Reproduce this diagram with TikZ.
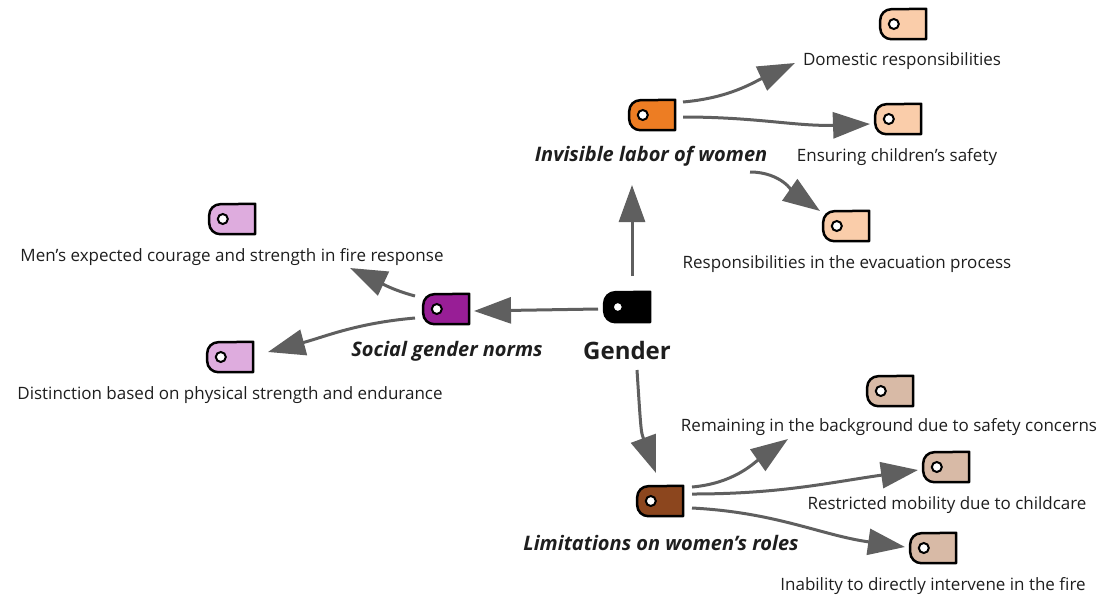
\documentclass[tikz,border=0pt]{standalone}
\usepackage{fontspec}
\setmainfont{Open Sans}
\usetikzlibrary{arrows.meta,calc}
\definecolor{txt}{RGB}{30,30,30}
\definecolor{arrgray}{RGB}{95,95,95}
\definecolor{orangetag}{RGB}{237,125,35}
\definecolor{peach}{RGB}{250,205,170}
\definecolor{purpletag}{RGB}{152,30,150}
\definecolor{lilac}{RGB}{222,172,222}
\definecolor{browntag}{RGB}{140,70,30}
\definecolor{tan}{RGB}{216,186,166}
\newcommand\tagdraw[2]{%
  \draw[line width=2.5pt,line join=round,fill=#2] (#1.south east) -- ++(-35pt,0) arc (270:180:11pt) -- ++(0,8pt) arc (180:90:11pt) -- (#1.north east) -- cycle;
  \draw[line width=2pt,fill=white] ($(#1.west)+(14pt,0)$) circle (5pt);}
\tikzset{
  tagbox/.style={rectangle,minimum width=46pt,minimum height=30pt,inner sep=0pt,draw=none},
  lbl/.style={font=\fontsize{17}{20}\selectfont,text=txt,inner sep=0pt},
  mainlbl/.style={font=\fontsize{20}{24}\selectfont\bfseries\itshape,text=txt,inner sep=0pt},
  arr/.style={draw=arrgray,line width=3pt,-{Triangle[length=37pt,width=26pt,fill=arrgray]}}
}
\begin{document}
\begin{tikzpicture}[x=1pt,y=-1pt]
\useasboundingbox (0,0) rectangle (1107,598);
% tags
\node[tagbox] (g) at (627,307) {};
\node[tagbox] (il) at (652,115) {};
\node[tagbox] (dom) at (903,24) {};
\node[tagbox] (ens) at (898,119) {};
\node[tagbox] (evac) at (846,226) {};
\node[tagbox] (men) at (232,219) {};
\node[tagbox] (sg) at (446,309) {};
\node[tagbox] (dist) at (230,357) {};
\node[tagbox] (lim) at (660,501) {};
\node[tagbox] (rem) at (890,391) {};
\node[tagbox] (res) at (946,467) {};
\node[tagbox] (ina) at (933,548) {};
\tagdraw{g}{black}
\tagdraw{il}{orangetag}
\tagdraw{dom}{peach}
\tagdraw{ens}{peach}
\tagdraw{evac}{peach}
\tagdraw{men}{lilac}
\tagdraw{sg}{purpletag}
\tagdraw{dist}{lilac}
\tagdraw{lim}{browntag}
\tagdraw{rem}{tan}
\tagdraw{res}{tan}
\tagdraw{ina}{tan}
% labels
\node[font=\fontsize{24}{28}\selectfont\bfseries,text=txt,inner sep=0pt] (gl) at (627,350) {Gender};
\node[mainlbl] (ill) at (651,156) {Invisible labor of women};
\node[mainlbl] (sgl) at (447,351) {Social gender norms};
\node[mainlbl] (liml) at (661,543) {Limitations on women’s roles};
\node[lbl] (doml) at (902,61) {Domestic responsibilities};
\node[lbl] (ensl) at (897,157) {Ensuring children’s safety};
\node[lbl] (evacl) at (847,264) {Responsibilities in the evacuation process};
\node[lbl] (menl) at (232,257) {Men’s expected courage and strength in fire response};
\node[lbl] (distl) at (230,395) {Distinction based on physical strength and endurance};
\node[lbl] (reml) at (889,427) {Remaining in the background due to safety concerns};
\node[lbl] (resl) at (947,505) {Restricted mobility due to childcare};
\node[lbl] (inal) at (933,586) {Inability to directly intervene in the fire};
% arrows
\draw[arr] ($(g)+(5,-31)$) -- ($(il)+(-20,70)$);
\draw[arr] ($(g)+(-29,2)$) -- ($(sg)+(28,2)$);
\draw[arr] ($(g)+(10,63)$) .. controls ($(g)+(14,125)$) .. ($(lim)+(-4,-28)$);
\draw[arr] ($(il)+(31,-13)$) to[out=5,in=205] ($(dom)+(-108,39)$);
\draw[arr] ($(il)+(31,2)$) to[out=0,in=182] ($(ens)+(-28,5)$);
\draw[arr] ($(il)+(98,57)$) to[out=0,in=145] ($(evac)+(-26,-15)$);
\draw[arr] ($(sg)+(-31,-13)$) to[out=165,in=-25] ($(men)+(118,49)$);
\draw[arr] ($(sg)+(-31,9)$) to[out=185,in=15] ($(dist)+(38,-5)$);
\draw[arr] ($(lim)+(32,-14)$) to[out=5,in=215] ($(rem)+(-102,48)$);
\draw[arr] ($(lim)+(32,-7)$) to[out=0,in=188] ($(res)+(-28,3)$);
\draw[arr] ($(lim)+(32,7)$) to[out=-3,in=172] ($(ina)+(-28,-1)$);
\end{tikzpicture}
\end{document}
